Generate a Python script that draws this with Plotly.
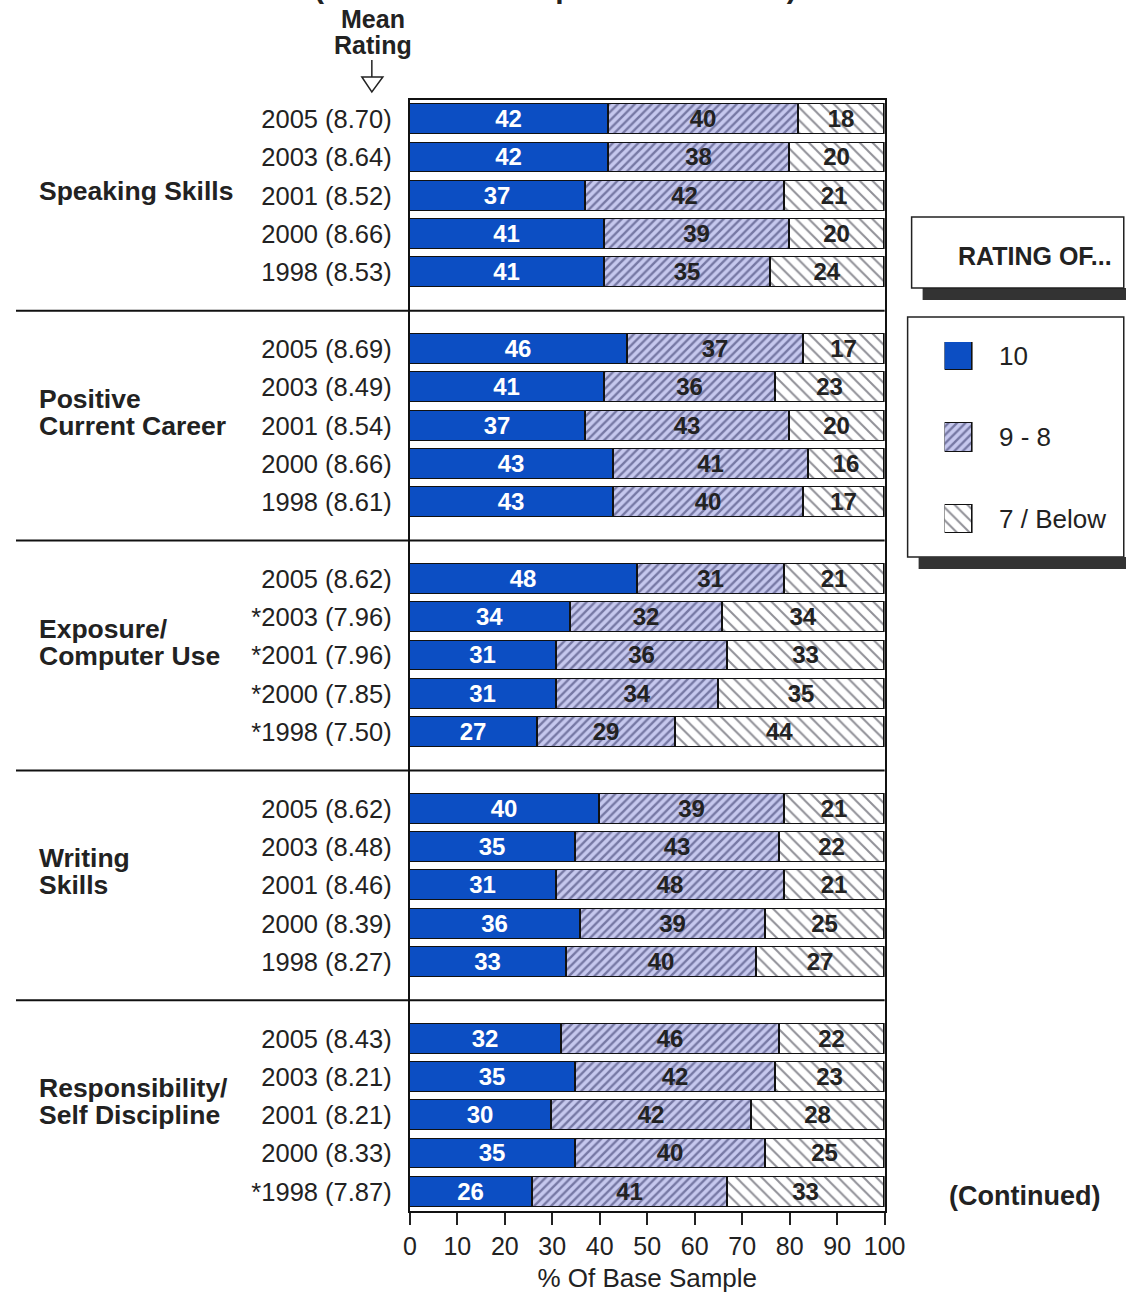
import plotly.graph_objects as go

W, H = 1147, 1303

group_lines = [
    ["Speaking Skills"],
    ["Positive", "Current Career"],
    ["Exposure/", "Computer Use"],
    ["Writing", "Skills"],
    ["Responsibility/", "Self Discipline"],
]
year_labels = [
    ["2005 (8.70)", "2003 (8.64)", "2001 (8.52)", "2000 (8.66)", "1998 (8.53)"],
    ["2005 (8.69)", "2003 (8.49)", "2001 (8.54)", "2000 (8.66)", "1998 (8.61)"],
    ["2005 (8.62)", "*2003 (7.96)", "*2001 (7.96)", "*2000 (7.85)", "*1998 (7.50)"],
    ["2005 (8.62)", "2003 (8.48)", "2001 (8.46)", "2000 (8.39)", "1998 (8.27)"],
    ["2005 (8.43)", "2003 (8.21)", "2001 (8.21)", "2000 (8.33)", "*1998 (7.87)"],
]
rating10 = [
    [42, 42, 37, 41, 41],
    [46, 41, 37, 43, 43],
    [48, 34, 31, 31, 27],
    [40, 35, 31, 36, 33],
    [32, 35, 30, 35, 26],
]
rating98 = [
    [40, 38, 42, 39, 35],
    [37, 36, 43, 41, 40],
    [31, 32, 36, 34, 29],
    [39, 43, 48, 39, 40],
    [46, 42, 42, 40, 41],
]
rating7 = [
    [18, 20, 21, 20, 24],
    [17, 23, 20, 16, 17],
    [21, 34, 33, 35, 44],
    [21, 22, 21, 25, 27],
    [22, 23, 28, 25, 33],
]
series_names = ["10", "9 - 8", "7 / Below"]
x_ticks = [0, 10, 20, 30, 40, 50, 60, 70, 80, 90, 100]

FONT = "Liberation Sans, Arial, sans-serif"
BLUE = "#0c4ec3"
LAV = "#c6c8ee"
HATCH = "#26285a"
INK = "#222"


def X(px):
    # horizontal pixel position in the photographed page -> paper fraction
    return min(max((px - 6) / 0.976, 0), W) / W


def Y(py):
    return 1 - py / H


ypos, ytext, v10, v98, v7 = [], [], [], [], []
for g in range(len(group_lines)):
    for i in range(5):
        ypos.append(g * 6 + i)
        ytext.append(year_labels[g][i])
        v10.append(rating10[g][i])
        v98.append(rating98[g][i])
        v7.append(rating7[g][i])

styles = [
    dict(color=BLUE, line=dict(color="#111", width=1.5)),
    dict(color=LAV, line=dict(color="#111", width=1.5),
         pattern=dict(shape="/", fgcolor=HATCH, size=6, solidity=0.4)),
    dict(color="white", line=dict(color="#111", width=1.5),
         pattern=dict(shape="\\", fgcolor="#222230", size=9, solidity=0.22)),
]
text_colors = ["white", "#222", "#222"]

fig = go.Figure()
for vals, name, st, tc in zip([v10, v98, v7], series_names, styles, text_colors):
    fig.add_trace(go.Bar(
        y=ypos, x=vals, orientation="h", name=name, marker=st, width=0.78,
        text=[str(v) for v in vals], textposition="inside", insidetextanchor="middle",
        textangle=0, constraintext="none",
        textfont=dict(family=FONT, size=24, color=tc, weight="bold"),
        showlegend=False, xaxis="x", yaxis="y",
    ))

for k, (name, st) in enumerate(zip(series_names, styles)):
    fig.add_trace(go.Bar(
        y=[k], x=[1], orientation="h", marker=st, width=0.344,
        showlegend=False, xaxis="x2", yaxis="y2", hoverinfo="skip",
    ))

n_slots = len(group_lines) * 6 - 1
fig.update_layout(
    width=W, height=H,
    margin=dict(l=0, r=0, t=0, b=0),
    paper_bgcolor="white", plot_bgcolor="white",
    barmode="stack", bargap=0,
    font=dict(family=FONT, size=25, color=INK),
    xaxis=dict(domain=[X(409), X(884)], range=[0, 100], tickvals=x_ticks,
               ticks="outside", ticklen=12, tickwidth=1.5, tickcolor=INK,
               showline=True, linecolor="#111", linewidth=2, mirror=True,
               showgrid=False, zeroline=False, tickfont=dict(size=25),
               title=dict(text="% Of Base Sample", font=dict(size=26), standoff=10)),
    yaxis=dict(domain=[Y(1211), Y(100)], range=[n_slots - 0.5, -0.5],
               tickvals=ypos, ticktext=ytext, ticks="", ticklabelstandoff=11,
               showline=True, linecolor="#111", linewidth=2, mirror=True,
               showgrid=False, zeroline=False, tickfont=dict(size=25.5)),
    xaxis2=dict(domain=[X(944), X(972)], range=[0, 1], visible=False, anchor="y2"),
    yaxis2=dict(domain=[Y(533), Y(342)], range=[2.17, -0.17], visible=False, anchor="x2"),
)

shapes = []
for g in range(len(group_lines) - 1):
    sy = g * 6 + 5
    shapes.append(dict(type="line", xref="paper", yref="y", x0=X(15), x1=X(884),
                       y0=sy, y1=sy, line=dict(color="#111", width=2)))
shapes.append(dict(type="rect", xref="paper", yref="paper", x0=X(922), x1=1,
                   y0=Y(300), y1=Y(288), fillcolor="#333", line=dict(width=0)))
shapes.append(dict(type="rect", xref="paper", yref="paper", x0=X(911), x1=0.998,
                   y0=Y(288), y1=Y(217), fillcolor="white", line=dict(color=INK, width=1.5)))
shapes.append(dict(type="rect", xref="paper", yref="paper", x0=X(918), x1=1,
                   y0=Y(569), y1=Y(557), fillcolor="#333", line=dict(width=0)))
shapes.append(dict(type="rect", xref="paper", yref="paper", x0=X(907), x1=0.998,
                   y0=Y(557), y1=Y(317), fillcolor="white", line=dict(color=INK, width=1.5),
                   layer="below"))
shapes.append(dict(type="line", xref="paper", yref="paper", x0=X(371), x1=X(371),
                   y0=Y(60), y1=Y(77), line=dict(color=INK, width=1.5)))
shapes.append(dict(type="path", xref="paper", yref="paper",
                   path=f"M{X(361)},{Y(77)} L{X(382)},{Y(77)} L{X(371)},{Y(92)} Z",
                   fillcolor="white", line=dict(color=INK, width=1.5)))
fig.update_layout(shapes=shapes)

ann = []
for g, lines in enumerate(group_lines):
    offs = [-5] if len(lines) == 1 else [-27, 0]
    for line, dy in zip(lines, offs):
        ann.append(dict(xref="paper", yref="y", x=X(36), y=g * 6 + 2, yshift=-dy,
                        xanchor="left", yanchor="middle", align="left", showarrow=False,
                        text=line, font=dict(size=26.5, color=INK, weight="bold")))
for k, name in enumerate(series_names):
    ann.append(dict(xref="paper", yref="y2", x=X(996), y=k, xanchor="left",
                    yanchor="middle", showarrow=False, text=name,
                    font=dict(size=26, color=INK)))
ann.append(dict(xref="paper", yref="paper", x=X(1034), y=Y(256), xanchor="center",
                yanchor="middle", showarrow=False, text="RATING OF...",
                font=dict(size=25, color=INK, weight="bold")))
ann.append(dict(xref="paper", yref="paper", x=X(1024), y=Y(1196), xanchor="center",
                yanchor="middle", showarrow=False, text="(Continued)",
                font=dict(size=27, color=INK, weight="bold")))
ann.append(dict(xref="paper", yref="paper", x=X(372), y=Y(19), xanchor="center",
                yanchor="middle", showarrow=False, text="Mean",
                font=dict(size=25, color=INK, weight="bold")))
ann.append(dict(xref="paper", yref="paper", x=X(372), y=Y(45), xanchor="center",
                yanchor="middle", showarrow=False, text="Rating",
                font=dict(size=25, color=INK, weight="bold")))
ann.append(dict(xref="paper", yref="paper", x=X(555), y=Y(-12), xanchor="center",
                yanchor="middle", showarrow=False, text="(Base: Total Sample Able To Rate)",
                font=dict(size=30, color=INK, weight="bold")))
fig.update_layout(annotations=ann)

fig.write_html(
    "out.html",
    post_script=("document.body.style.margin='0';"
                 "document.body.style.overflow='hidden';"
                 "document.documentElement.style.overflow='hidden';"),
    config={"displayModeBar": False},
)
